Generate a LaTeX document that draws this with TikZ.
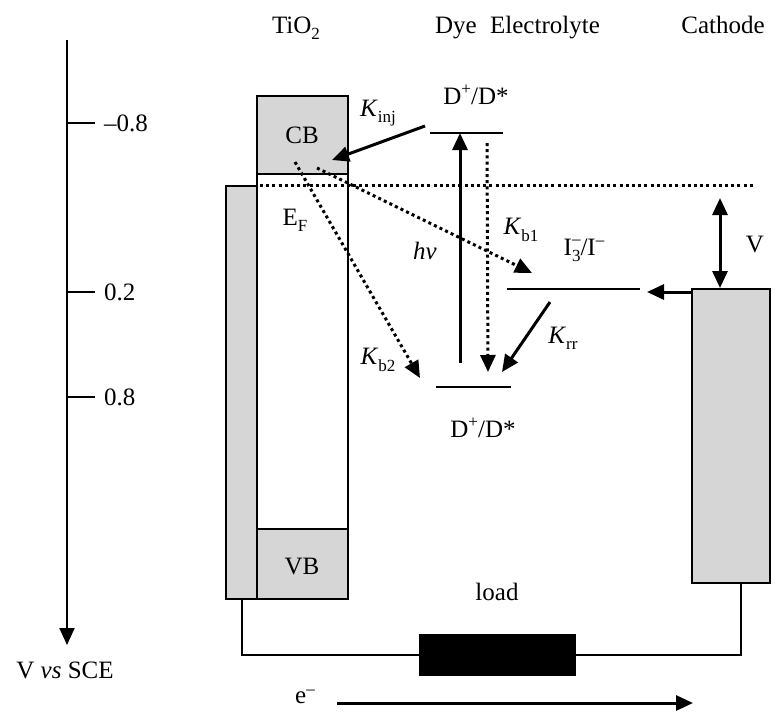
\documentclass[tikz,border=0pt]{standalone}
\usepackage{fontspec}
\setmainfont{Liberation Serif}
\usetikzlibrary{arrows.meta,positioning,calc}
\newcommand{\lowsub}[1]{\raisebox{-0.55ex}{\fontsize{8.5}{8.5}\selectfont #1}}
\newcommand{\highsup}[1]{\raisebox{0.85ex}{\fontsize{8.5}{8.5}\selectfont #1}}
\newcommand{\stackscr}[2]{\raisebox{-0.55ex}{\fontsize{8.5}{9.5}\selectfont\shortstack[l]{#1\\#2}}}

\begin{document}
\begin{tikzpicture}[x=0.5pt, y=-0.5pt, >={Triangle[length=8.5pt,width=7.5pt]},
  font=\fontsize{12.5}{15}\selectfont,
  band/.style={draw, line width=1pt, fill=black!16},
  wire/.style={line width=1pt},
  lvl/.style={line width=1.3pt},
  trans/.style={->, line width=1.5pt},
  back/.style={->, line width=1.5pt, dash pattern=on 1.5pt off 1.6pt},
]
  \useasboundingbox (0,0) rectangle (777,714);

  % potential scale
  \coordinate (axtop) at (67,40);
  \coordinate (axbot) at (67,645);
  \draw[->, wire] (axtop) -- (axbot);
  \foreach \y/\v in {123/{--0.8}, 292/0.2, 397/0.8}
    \draw[wire] (67,\y) -- (95,\y) node[right=4pt, inner sep=0pt] {\v};
  \node (vscale) at (65,670) {V \textit{vs} SCE};

  % column titles
  \node[anchor=base] (tio2) at (296,33) {TiO\lowsub{2}};
  \node[anchor=base] (dye) at (456,33) {Dye};
  \node[anchor=base] (elec) at (545,33) {Electrolyte};
  \node[anchor=base] (cath) at (723,33) {Cathode};

  % TiO2 electrode
  \draw[band] (226,186) rectangle (257,599);
  \draw[wire, fill=white] (257,96) rectangle (348,599);
  \draw[band] (257,96) rectangle (348,174);
  \draw[band] (257,529) rectangle (348,599);
  \node (cb) at (302,135) {CB};
  \node (vb) at (302,566) {VB};
  \node (ef) at (295,220) {E\lowsub{F}};

  % cathode
  \draw[band] (692,289) rectangle (770,583);

  % Fermi level
  \coordinate (efl) at (260,185);
  \coordinate (efr) at (755,185);
  \draw[line width=1.5pt, dash pattern=on 1.5pt off 1.6pt] (efl) -- (efr);

  % dye and redox levels
  \coordinate (dexl) at (430,133);
  \coordinate (dexr) at (503,133);
  \coordinate (dgrl) at (436,387);
  \coordinate (dgrr) at (511,387);
  \coordinate (redl) at (507,289);
  \coordinate (redr) at (640,289);
  \draw[lvl] (dexl) -- (dexr);
  \draw[lvl] (dgrl) -- (dgrr);
  \draw[lvl] (redl) -- (redr);
  \node (dex) at (476,95) {D\highsup{+}/D*};
  \node (dgr) at (483,428) {D\highsup{+}/D*};
  \node (redox) at (584,250) {I\stackscr{--}{3}/I\highsup{--}};

  % transitions
  \coordinate (hvs) at (460,363);
  \coordinate (hve) at (460,133);
  \coordinate (rls) at (487,143);
  \coordinate (rle) at (488,372);
  \coordinate (injs) at (425,126);
  \coordinate (inje) at (332,160);
  \coordinate (bas) at (317,168);
  \coordinate (bae) at (532,273);
  \coordinate (bbs) at (295,162);
  \coordinate (bbe) at (420,378);
  \coordinate (rrs) at (550,302);
  \coordinate (rre) at (502,372);
  \draw[trans] (hvs) -- (hve);
  \draw[back] (rls) -- (rle);
  \draw[trans] (injs) -- (inje);
  \draw[back] (bas) -- (bae);
  \draw[back] (bbs) -- (bbe);
  \draw[trans] (rrs) -- (rre);
  \node (hv) at (425,251) {\textit{hν}};
  \node (kinj) at (378,113) {\textit{K}\lowsub{inj}};
  \node (kb1) at (521,230) {\textit{K}\lowsub{b1}};
  \node (kb2) at (378,360) {\textit{K}\lowsub{b2}};
  \node (krr) at (563,338) {\textit{K}\lowsub{rr}};

  % photovoltage
  \coordinate (cathl) at (692,292);
  \coordinate (vtop) at (720,198);
  \coordinate (vbot) at (720,288);
  \draw[trans] (cathl) -- (647,292);
  \draw[trans, <->] (vtop) -- (vbot);
  \node (volt) at (755,244) {V};

  % external circuit
  \node[draw, fill=black, minimum width=78pt, minimum height=20.5pt, inner sep=0pt] (load) at (497,655) {};
  \node (loadlbl) at (497,592) {load};
  \draw[wire] (242,599) |- (load.west);
  \draw[wire] (load.east) -| (741,583);
  \coordinate (es) at (337,703);
  \coordinate (ee) at (693,703);
  \draw[trans] (es) -- (ee);
  \node (elbl) at (305,697) {e\highsup{--}};
\end{tikzpicture}
\end{document}
